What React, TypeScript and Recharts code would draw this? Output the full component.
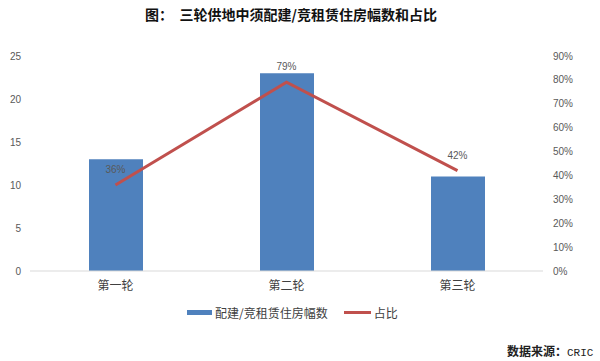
import React from 'react';
import { ComposedChart, Bar, Line, XAxis, YAxis, LabelList } from 'recharts';

const categories = ['第一轮', '第二轮', '第三轮'];
const plotCounts = [13, 23, 11];
const shares = [0.36, 0.79, 0.42];
const leftTicks = [0, 5, 10, 15, 20, 25];
const rightTicks = [0, 0.1, 0.2, 0.3, 0.4, 0.5, 0.6, 0.7, 0.8, 0.9];

const seriesNames = { bar: '配建/竞租赁住房幅数', line: '占比' };
const title = '图：  三轮供地中须配建/竞租赁住房幅数和占比';
const sourceLabel = '数据来源：';
const sourceName = 'CRIC';

const data = categories.map((c, i) => ({ name: c, count: plotCounts[i], share: shares[i] }));

const BLUE = '#4F81BD';
const RED = '#C0504D';
const CJK = '"Noto Sans CJK SC", "Liberation Sans", sans-serif';
const NUM = '"Liberation Sans", Arial, sans-serif';

export default function App() {
  return (
    <div style={{ position: 'absolute', left: 0, top: 0, width: 600, height: 361, background: '#fff', fontFamily: CJK }}>
      <div style={{ position: 'absolute', left: 0, top: 4, width: 582, textAlign: 'center', fontSize: 14, fontWeight: 'bold', color: '#111', whiteSpace: 'pre' }}>
        {title}
      </div>
      <ComposedChart
        width={600}
        height={361}
        data={data}
        margin={{ top: 56, right: 0, left: 0, bottom: 60 }}
      >
        <XAxis
          dataKey="name"
          axisLine={{ stroke: '#d9d9d9' }}
          tickLine={false}
          height={30}
          tickMargin={4}
          tick={{ fill: '#404040', fontSize: 12, fontFamily: CJK }}
        />
        <YAxis
          yAxisId="left"
          orientation="left"
          width={30}
          domain={[0, 25]}
          ticks={leftTicks}
          axisLine={false}
          tickLine={false}
          tickMargin={3}
          tick={{ fill: '#595959', fontSize: 10, fontFamily: NUM }}
        />
        <YAxis
          yAxisId="right"
          orientation="right"
          width={57}
          domain={[0, 0.9]}
          ticks={rightTicks}
          axisLine={false}
          tickLine={false}
          tickMargin={4}
          tickFormatter={(v: number) => `${Math.round(v * 100)}%`}
          tick={{ fill: '#595959', fontSize: 10, fontFamily: NUM, textAnchor: 'start' }}
        />
        <Bar yAxisId="left" dataKey="count" fill={BLUE} barSize={54} isAnimationActive={false} />
        <Line
          yAxisId="right"
          dataKey="share"
          stroke={RED}
          strokeWidth={3}
          dot={false}
          isAnimationActive={false}
        >
          <LabelList
            dataKey="share"
            position="top"
            offset={12}
            formatter={(v: number) => `${Math.round(v * 100)}%`}
            style={{ fill: '#595959', fontSize: 10, fontFamily: NUM }}
          />
        </Line>
      </ComposedChart>
      <div style={{ position: 'absolute', left: 187, top: 304, display: 'flex', alignItems: 'center', fontSize: 12, color: '#404040' }}>
        <span style={{ display: 'inline-block', width: 25, height: 5, background: BLUE, marginRight: 3 }} />
        <span>{seriesNames.bar}</span>
        <span style={{ display: 'inline-block', width: 27, height: 3, background: RED, marginLeft: 16, marginRight: 3 }} />
        <span>{seriesNames.line}</span>
      </div>
      <div style={{ position: 'absolute', left: 507, top: 342, fontSize: 12, color: '#222', whiteSpace: 'pre' }}>
        <span style={{ fontWeight: 'bold' }}>{sourceLabel}</span>
        <span style={{ fontFamily: '"Liberation Mono", "DejaVu Sans Mono", monospace', fontSize: 11 }}>{sourceName}</span>
      </div>
    </div>
  );
}
